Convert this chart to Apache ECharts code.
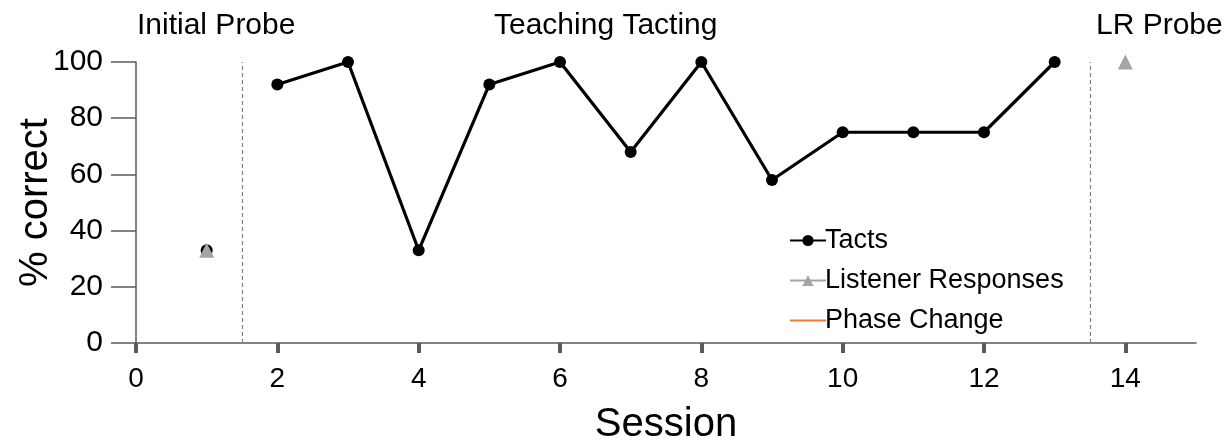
<!DOCTYPE html>
<html>
<head>
<meta charset="utf-8">
<script src="https://cdn.jsdelivr.net/npm/echarts@6/dist/echarts.min.js"></script>
<style>
html,body{margin:0;padding:0;background:#fff;}
#chart{width:1230px;height:445px;}
</style>
</head>
<body>
<div id="chart"></div>
<script>
// Data
const tactsProbe = [[1, 33]];
const tactsTeaching = [[2, 92], [3, 100], [4, 33], [5, 92], [6, 100], [7, 68], [8, 100], [9, 58], [10, 75], [11, 75], [12, 75], [13, 100]];
const listenerProbe = [[1, 33]];
const listenerLR = [[14, 100]];
const phaseChanges = [1.5, 13.5];
const xTicks = [0, 2, 4, 6, 8, 10, 12, 14];
const yTicks = [0, 20, 40, 60, 80, 100];
const phaseLabels = ['Initial Probe', 'Teaching Tacting', 'LR Probe'];

const FONT = '"Liberation Sans", Arial, sans-serif';
const chart = echarts.init(document.getElementById('chart'));

const tactStyle = {
  type: 'line', name: 'Tacts', symbol: 'circle', symbolSize: 12,
  itemStyle: { color: '#000' }, lineStyle: { color: '#000', width: 3.2 },
  z: 3, animation: false
};
const lrStyle = {
  type: 'line', name: 'Listener Responses', symbol: 'triangle', symbolSize: 15,
  itemStyle: { color: '#A5A5A5' }, lineStyle: { color: '#A5A5A5', width: 3.2 },
  z: 4, animation: false
};
const titleText = { fontFamily: FONT, fontSize: 30, fontWeight: 'normal', color: '#000' };
const AXIS_COLOR = '#595959';

chart.setOption({
  animation: false,
  title: [
    { text: phaseLabels[0], left: 132, top: 6, textStyle: titleText },
    { text: phaseLabels[1], left: 489, top: 6, textStyle: titleText },
    { text: phaseLabels[2], left: 1091, top: 6, textStyle: titleText }
  ],
  grid: { left: 136, right: 34, top: 62, bottom: 102, containLabel: false, outerBoundsMode: 'none' },
  legend: {
    orient: 'vertical', left: 784, top: 222, itemGap: 13,
    itemWidth: 36, itemHeight: 14,
    textStyle: { fontFamily: FONT, fontSize: 27, color: '#000', padding: [0, 0, 0, -6] },
    data: ['Tacts', 'Listener Responses', { name: 'Phase Change', itemStyle: { opacity: 0 } }]
  },
  xAxis: {
    type: 'value', min: 0, max: 15,
    name: 'Session', nameLocation: 'middle', nameGap: 62, nameMoveOverlap: false,
    nameTextStyle: { fontFamily: FONT, fontSize: 40, color: '#000' },
    axisLine: { show: true, onZero: false, lineStyle: { color: AXIS_COLOR, width: 1.5 } },
    axisTick: { show: true, length: 10, customValues: xTicks, lineStyle: { color: AXIS_COLOR, width: 4 } },
    axisLabel: { customValues: xTicks, margin: 22, fontFamily: FONT, fontSize: 28, color: '#000' },
    splitLine: { show: false }
  },
  yAxis: {
    type: 'value', min: 0, max: 100, interval: 20,
    name: '% correct', nameLocation: 'middle', nameGap: 80, nameRotate: 90, nameMoveOverlap: false,
    nameTextStyle: { fontFamily: FONT, fontSize: 40, color: '#000' },
    axisLine: { show: true, onZero: false, lineStyle: { color: AXIS_COLOR, width: 1.5 } },
    axisTick: { show: true, length: 25, lineStyle: { color: AXIS_COLOR, width: 1.5 } },
    axisLabel: { margin: 33, fontFamily: FONT, fontSize: 30, color: '#000' },
    splitLine: { show: false }
  },
  series: [
    Object.assign({}, tactStyle, { data: tactsProbe }),
    Object.assign({}, tactStyle, { data: tactsTeaching }),
    Object.assign({}, lrStyle, { data: listenerProbe }),
    Object.assign({}, lrStyle, { data: listenerLR }),
    {
      type: 'line', name: 'Phase Change', data: [], symbol: 'none',
      itemStyle: { color: '#ED7D31' }, lineStyle: { color: '#ED7D31', width: 3 },
      markLine: {
        silent: true, symbol: 'none', animation: false,
        label: { show: false },
        lineStyle: { color: '#808080', width: 1.2, type: [4, 3] },
        data: phaseChanges.map(v => ({ xAxis: v }))
      }
    }
  ]
});
</script>
</body>
</html>
